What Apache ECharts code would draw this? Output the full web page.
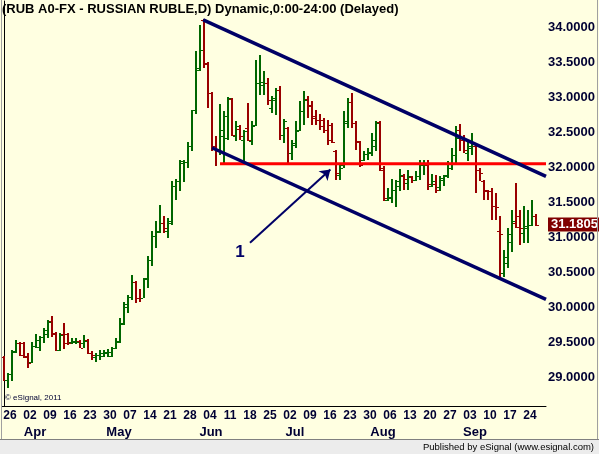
<!DOCTYPE html>
<html>
<head>
<meta charset="utf-8">
<script src="https://cdn.jsdelivr.net/npm/echarts@6/dist/echarts.min.js"></script>
<style>
html, body { margin: 0; padding: 0; background: #ffffff; }
#chart { width: 599px; height: 454px; }
</style>
</head>
<body>
<div id="chart"></div>
<script>
// daily bars, RUB A0-FX
var dates = [
    '2012-03-22', '2012-03-23',
    '2012-03-26', '2012-03-27', '2012-03-28', '2012-03-29', '2012-03-30',
    '2012-04-02', '2012-04-03', '2012-04-04', '2012-04-05', '2012-04-06',
    '2012-04-09', '2012-04-10', '2012-04-11', '2012-04-12', '2012-04-13',
    '2012-04-16', '2012-04-17', '2012-04-18', '2012-04-19', '2012-04-20',
    '2012-04-23', '2012-04-24', '2012-04-25', '2012-04-26', '2012-04-27',
    '2012-04-30', '2012-05-01', '2012-05-02', '2012-05-03', '2012-05-04',
    '2012-05-07', '2012-05-08', '2012-05-09', '2012-05-10', '2012-05-11',
    '2012-05-14', '2012-05-15', '2012-05-16', '2012-05-17', '2012-05-18',
    '2012-05-21', '2012-05-22', '2012-05-23', '2012-05-24', '2012-05-25',
    '2012-05-28', '2012-05-29', '2012-05-30', '2012-05-31', '2012-06-01',
    '2012-06-04', '2012-06-05', '2012-06-06', '2012-06-07', '2012-06-08',
    '2012-06-11', '2012-06-12', '2012-06-13', '2012-06-14', '2012-06-15',
    '2012-06-18', '2012-06-19', '2012-06-20', '2012-06-21', '2012-06-22',
    '2012-06-25', '2012-06-26', '2012-06-27', '2012-06-28', '2012-06-29',
    '2012-07-02', '2012-07-03', '2012-07-04', '2012-07-05', '2012-07-06',
    '2012-07-09', '2012-07-10', '2012-07-11', '2012-07-12', '2012-07-13',
    '2012-07-16', '2012-07-17', '2012-07-18', '2012-07-19', '2012-07-20',
    '2012-07-23', '2012-07-24', '2012-07-25', '2012-07-26', '2012-07-27',
    '2012-07-30', '2012-07-31', '2012-08-01', '2012-08-02', '2012-08-03',
    '2012-08-06', '2012-08-07', '2012-08-08', '2012-08-09', '2012-08-10',
    '2012-08-13', '2012-08-14', '2012-08-15', '2012-08-16', '2012-08-17',
    '2012-08-20', '2012-08-21', '2012-08-22', '2012-08-23', '2012-08-24',
    '2012-08-27', '2012-08-28', '2012-08-29', '2012-08-30', '2012-08-31',
    '2012-09-03', '2012-09-04', '2012-09-05', '2012-09-06', '2012-09-07',
    '2012-09-10', '2012-09-11', '2012-09-12', '2012-09-13', '2012-09-14',
    '2012-09-17', '2012-09-18', '2012-09-19', '2012-09-20', '2012-09-21',
    '2012-09-24', '2012-09-25', '2012-09-26', '2012-09-27'
];

var opens = [
    29.286, 28.957, 29.043, 29.358, 29.487, 29.487, 29.305, 29.215, 29.444, 29.434,
    29.577, 29.612, 29.807, 29.626, 29.387, 29.612, 29.612, 29.497, 29.501, 29.516,
    29.487, 29.530, 29.339, 29.286, 29.315, 29.301, 29.339, 29.301, 29.420, 29.516,
    29.769, 30.041, 30.150, 30.365, 30.136, 30.136, 30.414, 30.676, 31.020, 31.082,
    31.202, 31.092, 31.202, 31.726, 31.798, 32.062, 32.070, 32.309, 32.825, 33.398,
    34.105, 33.484, 33.064, 32.309, 32.252, 32.443, 32.420, 32.978, 32.443, 32.549,
    32.395, 32.563, 32.381, 32.610, 33.208, 33.183, 33.208, 32.850, 32.968, 33.112,
    32.467, 32.563, 32.205, 32.324, 32.539, 32.801, 32.978, 32.897, 32.729, 32.682,
    32.682, 32.539, 32.610, 32.228, 31.894, 32.037, 32.658, 32.930, 32.635, 32.362,
    32.109, 32.195, 32.213, 32.299, 32.643, 31.966, 31.536, 31.560, 31.679, 31.726,
    31.880, 31.775, 31.865, 31.822, 31.870, 32.037, 32.037, 31.726, 31.765, 31.722,
    31.847, 31.894, 31.990, 32.062, 32.539, 32.395, 32.206, 32.276, 32.299, 31.966,
    31.798, 31.669, 31.655, 31.440, 31.082, 30.486, 30.629, 30.938, 31.202, 31.297,
    31.059, 31.130, 31.178, 31.307
];
var highs = [
    29.294, 29.053, 29.387, 29.530, 29.501, 29.506, 29.344, 29.506, 29.612, 29.592,
    29.698, 29.817, 29.874, 29.640, 29.630, 29.778, 29.626, 29.559, 29.563, 29.530,
    29.602, 29.544, 29.372, 29.339, 29.387, 29.387, 29.397, 29.434, 29.563, 29.841,
    30.074, 30.175, 30.461, 30.375, 30.261, 30.414, 30.738, 31.082, 31.225, 31.454,
    31.307, 31.274, 31.798, 31.837, 32.099, 32.109, 32.357, 32.825, 33.660, 34.029,
    34.115, 33.503, 33.083, 32.443, 32.907, 32.801, 33.007, 32.993, 32.658, 32.610,
    32.539, 32.921, 32.658, 33.542, 33.613, 33.374, 33.279, 33.016, 33.136, 33.159,
    32.692, 32.577, 32.395, 32.658, 32.944, 33.087, 33.016, 32.944, 32.825, 32.764,
    32.706, 32.682, 32.635, 32.252, 32.062, 32.801, 32.993, 33.064, 32.658, 32.371,
    32.228, 32.276, 32.491, 32.658, 32.658, 32.013, 31.703, 31.832, 31.822, 31.976,
    31.904, 31.966, 31.870, 31.941, 32.109, 32.109, 32.109, 31.904, 31.894, 31.870,
    31.894, 32.084, 32.276, 32.596, 32.625, 32.467, 32.371, 32.491, 32.324, 31.990,
    31.822, 31.679, 31.703, 31.632, 31.297, 30.819, 31.130, 31.393, 31.775, 31.393,
    31.440, 31.393, 31.526, 31.331
];
var lows = [
    28.943, 28.847, 28.943, 29.339, 29.301, 29.268, 29.133, 29.196, 29.411, 29.372,
    29.483, 29.554, 29.577, 29.372, 29.372, 29.397, 29.458, 29.468, 29.468, 29.411,
    29.411, 29.325, 29.244, 29.219, 29.244, 29.291, 29.291, 29.291, 29.397, 29.491,
    29.745, 29.913, 30.103, 30.056, 30.079, 30.127, 30.279, 30.595, 30.852, 31.059,
    31.059, 30.987, 31.178, 31.526, 31.665, 31.789, 31.990, 32.228, 32.764, 33.374,
    33.427, 32.854, 32.238, 32.023, 32.181, 32.062, 32.395, 32.443, 32.371, 32.395,
    32.062, 32.371, 32.324, 32.586, 33.040, 33.040, 32.897, 32.778, 32.754, 32.395,
    32.348, 32.062, 32.099, 32.276, 32.514, 32.610, 32.706, 32.610, 32.610, 32.539,
    32.491, 32.324, 32.348, 31.822, 31.822, 31.990, 32.563, 32.563, 32.252, 32.004,
    32.084, 32.109, 32.156, 32.228, 31.941, 31.511, 31.511, 31.489, 31.431, 31.655,
    31.679, 31.679, 31.775, 31.798, 31.822, 31.894, 31.679, 31.715, 31.632, 31.665,
    31.726, 31.847, 31.966, 32.037, 32.228, 32.206, 32.084, 32.181, 31.632, 31.798,
    31.536, 31.536, 31.249, 31.249, 30.390, 30.437, 30.557, 30.795, 31.130, 30.891,
    30.915, 30.915, 31.153, 31.153
];
var closes = [
    28.957, 29.043, 29.372, 29.487, 29.315, 29.286, 29.205, 29.444, 29.530, 29.569,
    29.673, 29.792, 29.612, 29.387, 29.602, 29.483, 29.483, 29.520, 29.506, 29.420,
    29.516, 29.339, 29.315, 29.308, 29.339, 29.362, 29.362, 29.411, 29.506, 29.755,
    30.007, 30.150, 30.365, 30.136, 30.125, 30.404, 30.676, 31.010, 31.077, 31.202,
    31.130, 31.225, 31.726, 31.798, 32.084, 32.070, 32.309, 32.815, 33.423, 33.685,
    33.494, 33.064, 32.309, 32.228, 32.539, 32.729, 32.993, 32.467, 32.586, 32.443,
    32.514, 32.395, 32.586, 33.208, 33.216, 33.208, 32.968, 32.993, 33.112, 32.467,
    32.658, 32.205, 32.348, 32.514, 32.801, 32.968, 32.872, 32.706, 32.682, 32.596,
    32.539, 32.395, 32.367, 31.918, 31.990, 32.635, 32.930, 32.635, 32.371, 32.037,
    32.195, 32.205, 32.395, 32.635, 31.990, 31.560, 31.579, 31.679, 31.798, 31.894,
    31.832, 31.870, 31.822, 31.870, 32.037, 32.052, 31.765, 31.798, 31.679, 31.822,
    31.870, 31.990, 32.181, 32.420, 32.420, 32.252, 32.299, 32.348, 31.966, 31.918,
    31.655, 31.655, 31.440, 31.431, 31.049, 30.723, 31.049, 31.225, 31.145, 31.130,
    31.153, 31.178, 31.307, 31.1805
];

// month names, placed on the first trading day of each month
var monthStarts = ['2012-04-02', '2012-05-01', '2012-06-01', '2012-07-02', '2012-08-01', '2012-09-03'];
var monthNames = ['Apr', 'May', 'Jun', 'Jul', 'Aug', 'Sep'];

// drawn trend lines: [bar index, price]
var upperChannel = [[49.8, 34.11], [135.5, 31.87]];
var lowerChannel = [[52, 32.28], [135.5, 30.11]];
var supportLine = [[54, 32.05], [135.5, 32.05]];
var arrowLine = [[61.5, 30.92], [81.6, 31.97]];
var arrowText = [59, 30.79];
var lastPrice = 31.1805;

var upColor = '#006600';
var downColor = '#990000';
var navy = '#000066';
var textColor = '#000033';

var bars = [];
for (var i = 0; i < closes.length; i++) {
    bars.push([i, opens[i], highs[i], lows[i], closes[i]]);
}

function isMonday(d) {
    return new Date(d + 'T00:00:00Z').getUTCDay() === 1;
}

function drawBar(params, api) {
    var i = api.value(0);
    var pO = api.coord([i, api.value(1)]);
    var pH = api.coord([i, api.value(2)]);
    var pL = api.coord([i, api.value(3)]);
    var pC = api.coord([i, api.value(4)]);
    var color = api.value(4) >= api.value(1) ? upColor : downColor;
    var x = Math.round(pH[0]);
    var top = Math.round(pH[1]);
    var bottom = Math.round(pL[1]);
    return {
        type: 'group',
        children: [
            { type: 'rect', shape: { x: x - 1, y: top, width: 2, height: Math.max(1, bottom - top) }, style: { fill: color } },
            { type: 'rect', shape: { x: x - 3, y: Math.round(pO[1]), width: 2, height: 1 }, style: { fill: color } },
            { type: 'rect', shape: { x: x + 1, y: Math.round(pC[1]), width: 2, height: 1 }, style: { fill: color } }
        ]
    };
}

var chart = echarts.init(document.getElementById('chart'));

var labelFont = { color: textColor, fontWeight: 'bold', fontFamily: 'Liberation Sans, Arial, sans-serif' };

chart.setOption({
    backgroundColor: '#FFFFE1',
    animation: false,
    title: {
        text: '(RUB A0-FX - RUSSIAN RUBLE,D) Dynamic,0:00-24:00 (Delayed)',
        left: 2,
        top: 3,
        padding: 0,
        textStyle: { color: '#000000', fontSize: 13, fontWeight: 'bold', fontFamily: 'Liberation Sans, Arial, sans-serif' }
    },
    grid: { left: 2, right: 53, top: 1, bottom: 48 },
    xAxis: [
        {
            type: 'category',
            data: dates,
            boundaryGap: true,
            axisLine: { lineStyle: { color: '#000000', width: 1 } },
            axisTick: { show: false },
            axisLabel: Object.assign({
                fontSize: 12,
                margin: 4,
                padding: [0, 4, 0, 0],
                interval: function (idx, value) { return isMonday(value); },
                formatter: function (value) { return value.slice(8); }
            }, labelFont)
        },
        {
            type: 'category',
            data: dates,
            position: 'bottom',
            offset: 18,
            axisLine: { show: false },
            axisTick: { show: false },
            axisLabel: Object.assign({
                fontSize: 13,
                margin: 2,
                padding: [0, 0, 0, 6],
                interval: function (idx, value) { return monthStarts.indexOf(value) >= 0; },
                formatter: function (value) { return monthNames[monthStarts.indexOf(value)]; }
            }, labelFont)
        },
        {
            type: 'value',
            min: -0.5,
            max: dates.length - 0.5,
            show: false
        }
    ],
    yAxis: {
        type: 'value',
        position: 'right',
        min: 28.585,
        max: 34.379,
        splitNumber: 12,
        axisLine: { show: true, lineStyle: { color: '#000000', width: 1 } },
        axisTick: { show: false },
        splitLine: { show: false },
        axisLabel: Object.assign({
            fontSize: 13,
            margin: 2,
            showMinLabel: false,
            showMaxLabel: false,
            formatter: function (v) { return v.toFixed(4); }
        }, labelFont)
    },
    series: [
        {
            name: 'RUB',
            type: 'custom',
            xAxisIndex: 0,
            renderItem: drawBar,
            encode: { x: 0, y: [1, 2, 3, 4] },
            data: bars,
            z: 2
        },
        {
            name: 'support',
            type: 'line',
            xAxisIndex: 2,
            data: supportLine,
            symbol: 'none',
            lineStyle: { color: '#FF0000', width: 3 },
            z: 3,
            markLine: {
                silent: true,
                symbol: ['none', 'none'],
                animation: false,
                lineStyle: { color: 'rgba(0,0,0,0)', width: 0 },
                label: {
                    show: true,
                    position: 'end',
                    distance: 2,
                    formatter: lastPrice.toFixed(4),
                    color: '#FFFFFF',
                    backgroundColor: '#800000',
                    padding: [1, 3, 0, 3],
                    fontSize: 13,
                    fontWeight: 'bold',
                    fontFamily: 'Liberation Sans, Arial, sans-serif'
                },
                data: [{ yAxis: lastPrice }]
            }
        },
        {
            name: 'upper',
            type: 'line',
            xAxisIndex: 2,
            data: upperChannel,
            symbol: 'none',
            lineStyle: { color: navy, width: 3.5 },
            z: 4
        },
        {
            name: 'lower',
            type: 'line',
            xAxisIndex: 2,
            data: lowerChannel,
            symbol: 'none',
            lineStyle: { color: navy, width: 3.5 },
            z: 4,
            markLine: {
                silent: true,
                symbol: ['none', 'arrow'],
                symbolSize: 10,
                animation: false,
                lineStyle: { color: navy, width: 2, type: 'solid' },
                label: { show: false },
                data: [[{ coord: arrowLine[0] }, { coord: arrowLine[1] }]]
            },
            markPoint: {
                silent: true,
                symbol: 'circle',
                symbolSize: 1,
                itemStyle: { color: 'rgba(0,0,0,0)' },
                label: { show: true, position: 'inside', formatter: '1', color: navy, fontSize: 17, fontWeight: 'bold', fontFamily: 'Liberation Sans, Arial, sans-serif' },
                data: [{ coord: arrowText }]
            }
        }
    ],
    graphic: [
        { type: 'rect', left: 0, top: 440, shape: { width: 599, height: 14 }, style: { fill: '#ECECEC' }, z: 100 },
        { type: 'line', shape: { x1: 0, y1: 439.5, x2: 599, y2: 439.5 }, style: { stroke: '#808080', lineWidth: 1 }, z: 100 },
        { type: 'line', shape: { x1: 1.5, y1: 0, x2: 1.5, y2: 439 }, style: { stroke: '#A0A0A0', lineWidth: 1 }, z: 100 },
        { type: 'line', shape: { x1: 597.5, y1: 0, x2: 597.5, y2: 439 }, style: { stroke: '#A0A0A0', lineWidth: 1 }, z: 100 },
        { type: 'text', right: 5, top: 442, style: { text: 'Published by eSignal (www.esignal.com)', fill: '#000000', font: '9.5px "Liberation Sans", Arial, sans-serif' }, z: 101 },
        { type: 'text', left: 5, top: 394, style: { text: '\u00A9 eSignal, 2011', fill: '#000033', font: '8px "Liberation Sans", Arial, sans-serif' }, z: 101 }
    ]
});
</script>
</body>
</html>
